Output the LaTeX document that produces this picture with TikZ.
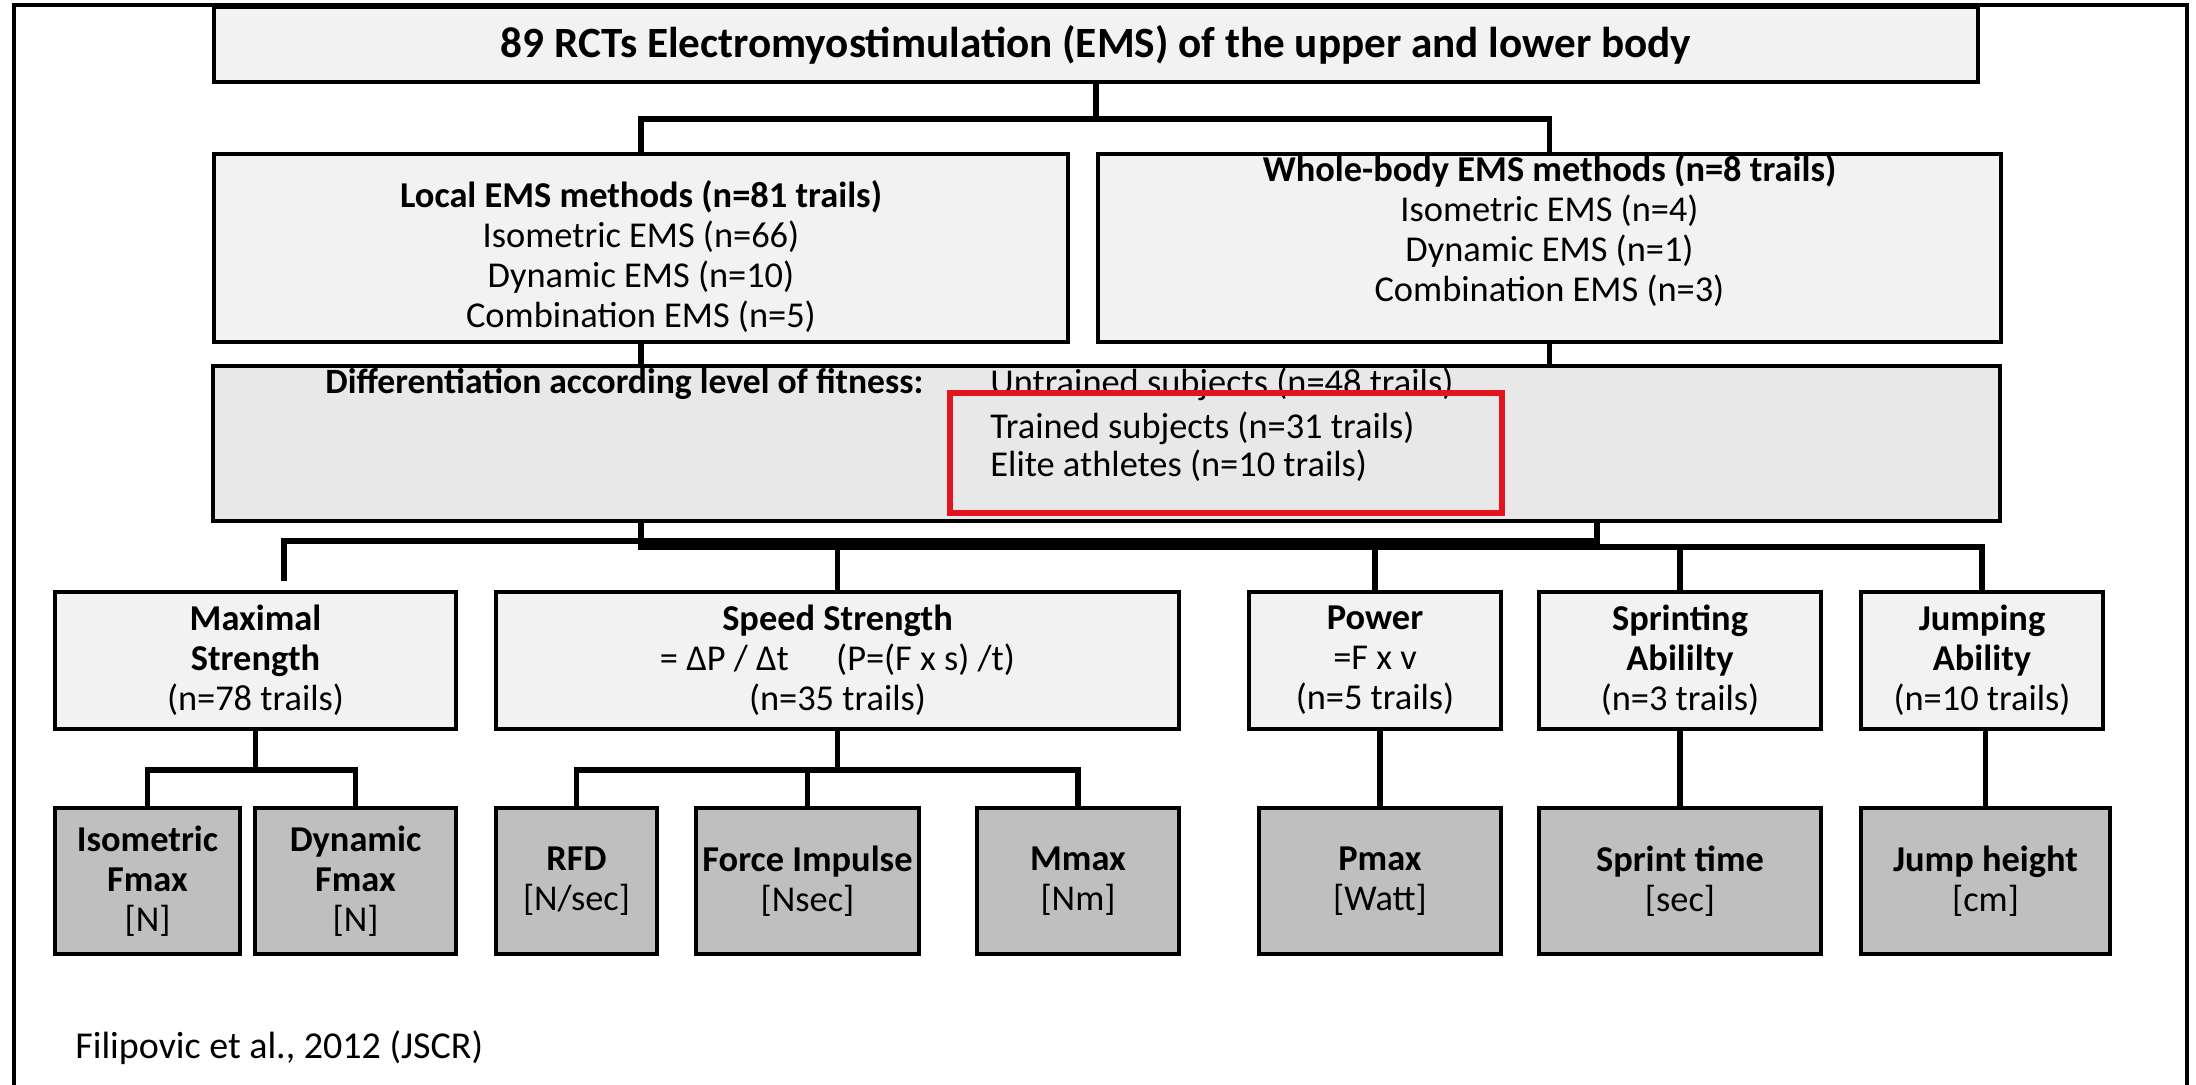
\documentclass[tikz,border=0pt]{standalone}
\usepackage{fontspec}
\setmainfont{Carlito}
\usetikzlibrary{calc}
\definecolor{mark}{RGB}{228,20,30}
\tikzset{
    block/.style={draw=black, line width=2pt, fill=gray!10, align=center, inner sep=0pt, font=\fontsize{18.2}{20}\selectfont},
    result/.style={block, fill=gray!50},
    link/.style={line width=2.8pt, line cap=rect},
  }

\begin{document}
\begin{tikzpicture}[x=0.5pt,y=-0.5pt]
	%coordinates are pixels of the 2196x1085 sheet, y downwards
	%boxes : block (light), result (dark)
	\useasboundingbox (0,0) rectangle (2196,1085);
	\draw[line width=2.4pt] (14,1085) |- (2187,5) -- (2187,1085);
	% level 1 and 2
	\node[block, minimum width=882pt, minimum height=37.5pt, font=\fontsize{21.6}{24}\selectfont\bfseries] (title) at (1096,44.5) {89 RCTs Electromyostimulation (EMS) of the upper and lower body};
	\node[block, minimum width=427pt, minimum height=94pt] (local) at (641,248) {\strut\\[-12pt]\textbf{Local EMS methods (n=81 trails)}\\Isometric EMS (n=66)\\Dynamic EMS (n=10)\\Combination EMS (n=5)};
	\node[block, minimum width=451.5pt, minimum height=94pt] (whole) at (1549.5,248) {\textbf{Whole-body EMS methods (n=8 trails)}\\Isometric EMS (n=4)\\Dynamic EMS (n=1)\\Combination EMS (n=3)\\ \mbox{}};
	% fitness
	\node[block, fill=gray!18, minimum width=893.5pt, minimum height=77.5pt] (diff) at (1106.5,443.5) {};
	\node[anchor=west, inner sep=0pt, font=\fontsize{17.8}{20}\selectfont\bfseries] (fitness) at (325,384) {Differentiation according level of fitness:};
	\foreach \y/\n/\t in {384/untrained/Untrained subjects (n=48 trails), 428/trained/Trained subjects (n=31 trails), 466/elite/Elite athletes (n=10 trails)}
		\node[anchor=west, inner sep=0pt, font=\fontsize{18.2}{20}\selectfont] (\n) at (990,\y) {\t};
	\node[draw=mark, line width=3pt, minimum width=276pt, minimum height=60pt, inner sep=0pt] (highlight) at (1226,453) {};
	% level 3
	\node[block, minimum width=200.5pt, minimum height=68.5pt] (maxs) at (255.5,660.5) {\textbf{Maximal}\\\textbf{Strength}\\(n=78 trails)};
	\node[block, minimum width=341.5pt, minimum height=68.5pt] (speed) at (837.5,660.5) {\textbf{Speed Strength}\\= ΔP / Δt\hspace{1.3em}(P=(F x s) /t)\\(n=35 trails)};
	\node[block, minimum width=126pt, minimum height=68.5pt] (power) at (1375,660.5) {\textbf{Power}\\=F x v\\(n=5 trails)};
	\node[block, minimum width=141pt, minimum height=68.5pt] (sprint) at (1680,660.5) {\textbf{Sprinting}\\\textbf{Abililty}\\(n=3 trails)};
	\node[block, minimum width=121pt, minimum height=68.5pt] (jump) at (1982,660.5) {\textbf{Jumping}\\\textbf{Ability}\\(n=10 trails)};
	% level 4
	\node[result, minimum width=92.5pt, minimum height=73pt] (isofmax) at (147.5,881) {\textbf{Isometric}\\\textbf{Fmax}\\{[N]}};
	\node[result, minimum width=100.5pt, minimum height=73pt] (dynfmax) at (355.5,881) {\textbf{Dynamic}\\\textbf{Fmax}\\{[N]}};
	\node[result, minimum width=80.5pt, minimum height=73pt] (rfd) at (576.5,881) {\textbf{RFD}\\{[N/sec]}};
	\node[result, minimum width=111.5pt, minimum height=73pt] (impulse) at (807.5,881) {\textbf{Force Impulse}\\{[Nsec]}};
	\node[result, minimum width=101pt, minimum height=73pt] (mmax) at (1078,881) {\textbf{Mmax}\\{[Nm]}};
	\node[result, minimum width=121pt, minimum height=73pt] (pmax) at (1380,881) {\textbf{Pmax}\\{[Watt]}};
	\node[result, minimum width=141pt, minimum height=73pt] (sprinttime) at (1680,881) {\textbf{Sprint time}\\{[sec]}};
	\node[result, minimum width=124.5pt, minimum height=73pt] (jumpheight) at (1985.5,881) {\textbf{Jump height}\\{[cm]}};
	\node[anchor=west, inner sep=0pt, font=\fontsize{19}{22}\selectfont] (cite) at (75,1048) {Filipovic et al., 2012 (JSCR)};
	% connectors
	\draw[link] (title.south) -- ++(0,35) coordinate (split);
	\draw[link] (local.north) |- (split) -| (whole.north);
	\draw[link] (local.south) -- (local.south |- diff.north);
	\draw[link] (whole.south) -- (whole.south |- diff.north);
	\coordinate (bus) at (0,547);
	\draw[link] (diff.south -| local.south) |- (bus -| jump.north) -- (jump.north);
	\foreach \n in {speed,power,sprint}
		\draw[link] (bus -| \n.north) -- (\n.north);
	\coordinate (join) at (1597,541);
	\coordinate (stub) at ($(maxs.north)+(28.5,-12)$);
	\draw[link] (join |- diff.south) -- (join) -| (stub);
	\draw[link] (maxs.south) -- ++(0,39) coordinate (mfork);
	\draw[link] (isofmax.north) |- (mfork) -| (dynfmax.north);
	\draw[link] (speed.south) -- ++(0,39) coordinate (sfork);
	\draw[link] (rfd.north) |- (sfork) -| (mmax.north);
	\draw[link] (impulse.north) -- (impulse.north |- sfork);
	\foreach \a/\b in {power/pmax,sprint/sprinttime,jump/jumpheight}
		\draw[link] (\b.north |- \a.south) -- (\b.north);
\end{tikzpicture}
\end{document}
